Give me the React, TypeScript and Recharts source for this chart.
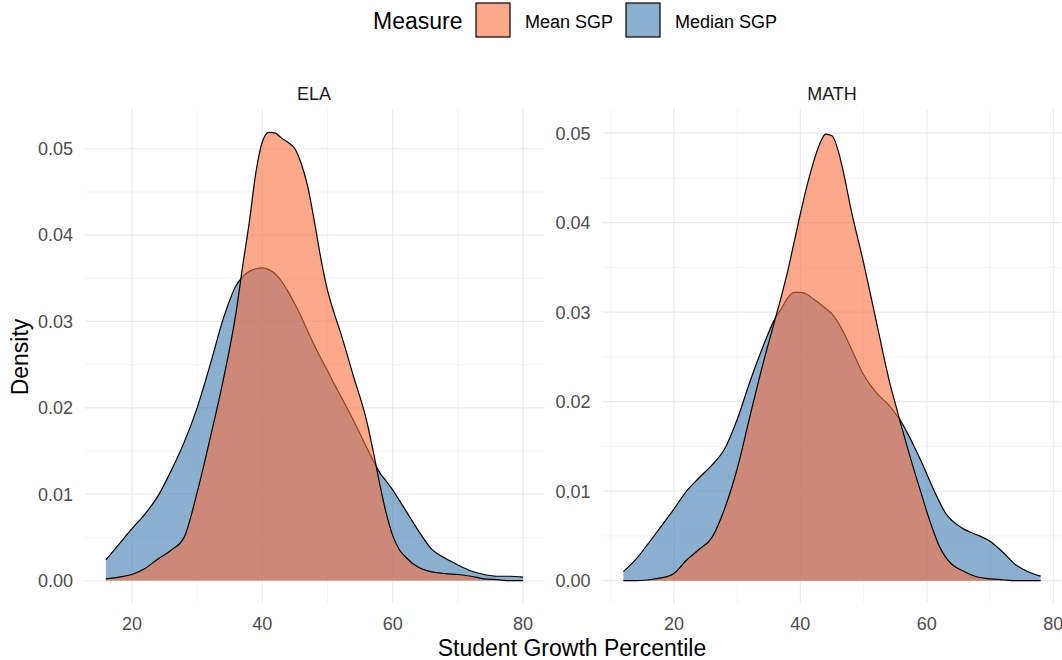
import { AreaChart, Area, XAxis, YAxis, CartesianGrid } from 'recharts'

// ELA density curves
const elaX = [16, 18, 20, 22, 24, 26, 28, 30, 32, 34, 36, 37, 38, 39, 40, 41, 42, 43, 44, 45, 46, 47, 48, 49, 50, 51, 52, 54, 56, 57, 58, 59, 60, 61, 62, 64, 66, 68, 70, 72, 74, 76, 78, 80]
const elaMean = [0.0002, 0.0004, 0.0007, 0.0014, 0.0025, 0.0035, 0.005, 0.0102, 0.0165, 0.0232, 0.0312, 0.0365, 0.0415, 0.0472, 0.0508, 0.0519, 0.0518, 0.0512, 0.0507, 0.05, 0.0482, 0.0455, 0.0415, 0.0372, 0.0336, 0.031, 0.0287, 0.0236, 0.0185, 0.015, 0.0112, 0.0078, 0.0052, 0.0036, 0.0027, 0.0015, 0.001, 0.0008, 0.0007, 0.0005, 0.0002, 0.0001, 0, 0]
const elaMedian = [0.0024, 0.0042, 0.006, 0.0077, 0.0098, 0.0127, 0.016, 0.02, 0.025, 0.0303, 0.0342, 0.0352, 0.0358, 0.0361, 0.0362, 0.036, 0.0355, 0.0346, 0.0334, 0.032, 0.0305, 0.0288, 0.0272, 0.0257, 0.0243, 0.0228, 0.0214, 0.0185, 0.0154, 0.0139, 0.0125, 0.0115, 0.0105, 0.0093, 0.0081, 0.0057, 0.0036, 0.0026, 0.0018, 0.0011, 0.0007, 0.0005, 0.0005, 0.0004]

// MATH density curves
const mathX = [12, 14, 16, 18, 20, 22, 24, 26, 28, 30, 32, 34, 36, 37, 38, 39, 40, 41, 42, 43, 44, 45, 46, 47, 48, 50, 52, 54, 55, 56, 57, 58, 59, 60, 61, 62, 63, 64, 66, 68, 70, 72, 74, 76, 78]
const mathMean = [0, 0, 0.0001, 0.0003, 0.0008, 0.0023, 0.0035, 0.0048, 0.008, 0.0125, 0.0183, 0.024, 0.0292, 0.0318, 0.0346, 0.0378, 0.041, 0.044, 0.0466, 0.0487, 0.0499, 0.0497, 0.048, 0.045, 0.0415, 0.0355, 0.029, 0.0225, 0.0198, 0.0172, 0.0147, 0.0123, 0.01, 0.0077, 0.0056, 0.0038, 0.0026, 0.0018, 0.001, 0.0004, 0.0002, 0.0001, 0, 0, 0]
const mathMedian = [0.001, 0.0024, 0.0042, 0.0061, 0.008, 0.01, 0.0115, 0.0129, 0.0147, 0.018, 0.0222, 0.026, 0.0293, 0.0304, 0.0316, 0.0322, 0.0322, 0.032, 0.0315, 0.031, 0.0304, 0.0298, 0.0288, 0.0275, 0.026, 0.023, 0.021, 0.0196, 0.0187, 0.0177, 0.0164, 0.015, 0.0135, 0.0119, 0.0103, 0.0088, 0.0075, 0.0067, 0.0057, 0.0051, 0.0044, 0.0032, 0.0018, 0.001, 0.0005]

const densityTicks = [0, 0.01, 0.02, 0.03, 0.04, 0.05]
const densityMinor = [0.005, 0.015, 0.025, 0.035, 0.045]
const sgpTicks = [20, 40, 60, 80]
const elaMinorX = [30, 50, 70]
const mathMinorX = [10, 30, 50, 70]

const MEAN_FILL = '#FA703C'
const MEDIAN_FILL = '#3C7AAF'
const FONT = '"Liberation Sans", Arial, Helvetica, sans-serif'

const toRows = (xs: number[], mean: number[], median: number[]) =>
  xs.map((x, i) => ({ x, mean: mean[i], median: median[i] }))

interface PanelProps {
  rows: { x: number; mean: number; median: number }[]
  xDomain: [number, number]
  yDomain: [number, number]
  minorX: number[]
  left: number
  width: number
  yAxisWidth: number
  marginLeft: number
  marginRight: number
}

function Panel({ rows, xDomain, yDomain, minorX, left, width, yAxisWidth, marginLeft, marginRight }: PanelProps) {
  const tickStyle = { fontSize: 18, fill: '#4D4D4D', fontFamily: FONT }
  return (
    <div style={{ position: 'absolute', left, top: 0 }}>
      <AreaChart width={width} height={660} data={rows}
        margin={{ top: 109, right: marginRight, left: marginLeft, bottom: 27 }}>
        {/* minor grid, then major grid */}
        <CartesianGrid stroke="#F1F1F1" strokeWidth={0.8} syncWithTicks
          horizontalValues={densityMinor} verticalValues={minorX} />
        <CartesianGrid stroke="#EBEBEB" strokeWidth={1.2} syncWithTicks />
        <XAxis type="number" dataKey="x" domain={xDomain} ticks={sgpTicks} interval={0} allowDataOverflow
          axisLine={false} tickLine={false} tickSize={0} tickMargin={14} height={30} tick={tickStyle} />
        <YAxis type="number" domain={yDomain} ticks={densityTicks} interval={0} allowDataOverflow
          axisLine={false} tickLine={false} tickSize={0} tickMargin={12} width={yAxisWidth} tick={tickStyle}
          tickFormatter={(v: number) => v.toFixed(2)} />
        <Area dataKey="median" type="monotone" baseValue={0} fill={MEDIAN_FILL} fillOpacity={0.6}
          stroke="#000" strokeWidth={1.2} dot={false} activeDot={false} isAnimationActive={false} />
        <Area dataKey="mean" type="monotone" baseValue={0} fill={MEAN_FILL} fillOpacity={0.6}
          stroke="#000" strokeWidth={1.2} dot={false} activeDot={false} isAnimationActive={false} />
      </AreaChart>
    </div>
  )
}

export default function App() {
  return (
    <div style={{ position: 'absolute', left: 0, top: 0, width: 1062, height: 660, background: '#fff', fontFamily: FONT }}>
      <Panel rows={toRows(elaX, elaMean, elaMedian)} xDomain={[12.8, 83.2]} yDomain={[-0.0026, 0.0546]}
        minorX={elaMinorX} left={0} width={560} yAxisWidth={75} marginLeft={10} marginRight={16} />
      <Panel rows={toRows(mathX, mathMean, mathMedian)} xDomain={[8.7, 81.3]} yDomain={[-0.0025, 0.0527]}
        minorX={mathMinorX} left={540} width={522} yAxisWidth={62.5} marginLeft={0} marginRight={0.5} />
      <svg width={1062} height={660} style={{ position: 'absolute', left: 0, top: 0, pointerEvents: 'none' }}
        fontFamily={FONT}>
        <text x={373} y={29} fontSize={23} fill="#000">Measure</text>
        <rect x={476} y={3} width={34} height={34} fill={MEAN_FILL} fillOpacity={0.6} stroke="#000" strokeWidth={1.2} />
        <text x={525} y={28} fontSize={18} fill="#000">Mean SGP</text>
        <rect x={626} y={3} width={34} height={34} fill={MEDIAN_FILL} fillOpacity={0.6} stroke="#000" strokeWidth={1.2} />
        <text x={675} y={28} fontSize={18} fill="#000">Median SGP</text>
        <text x={314} y={100} fontSize={18} fill="#1A1A1A" textAnchor="middle">ELA</text>
        <text x={832} y={100} fontSize={18} fill="#1A1A1A" textAnchor="middle">MATH</text>
        <text x={572} y={656} fontSize={23} fill="#000" textAnchor="middle">Student Growth Percentile</text>
        <text transform="translate(28,357) rotate(-90)" fontSize={23} fill="#000" textAnchor="middle">Density</text>
      </svg>
    </div>
  )
}
